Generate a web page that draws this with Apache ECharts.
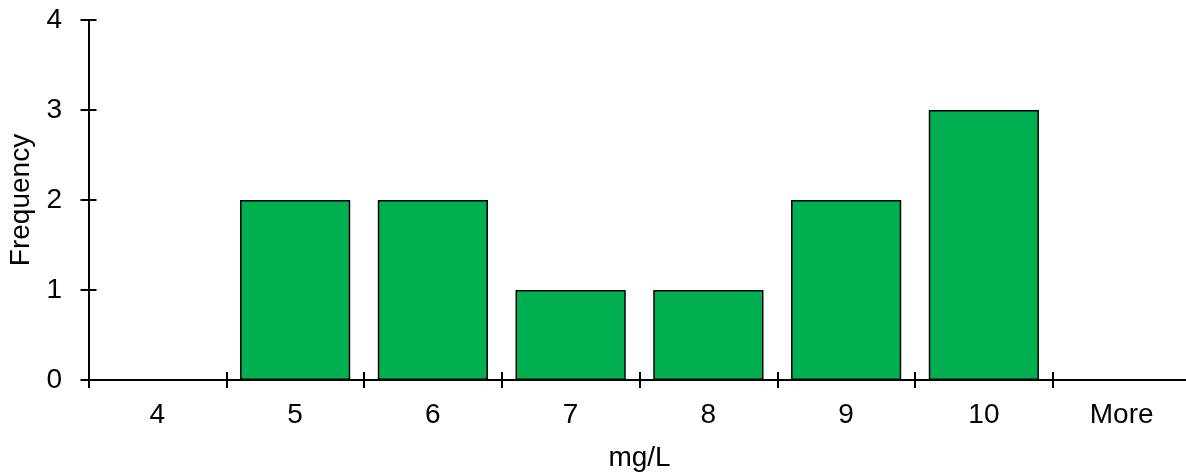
<!DOCTYPE html>
<html>
<head>
<meta charset="utf-8">
<script src="https://cdn.jsdelivr.net/npm/echarts@6/dist/echarts.min.js"></script>
<style>
  html, body { margin: 0; padding: 0; background: #fff; }
  #chart { width: 1186px; height: 474px; }
</style>
</head>
<body>
<div id="chart"></div>
<script>
const categories = ['4', '5', '6', '7', '8', '9', '10', 'More'];
const frequency = [0, 2, 2, 1, 1, 2, 3, 0];
const yTicks = { min: 0, max: 4, interval: 1 };

const font = '"Liberation Sans", Arial, sans-serif';
const lineStyle = { color: '#000', width: 2 };

const chart = echarts.init(document.getElementById('chart'), null, { renderer: 'canvas' });
chart.setOption({
  animation: false,
  backgroundColor: '#fff',
  grid: { left: 88.5, right: -4.5, top: 20, bottom: 94, containLabel: false, outerBoundsMode: 'none' },
  xAxis: [
    {
      type: 'category',
      data: categories,
      position: 'bottom',
      name: 'mg/L',
      nameLocation: 'middle',
      nameGap: 64.5,
      nameTextStyle: { fontFamily: font, fontSize: 28, color: '#000' },
      axisLine: { show: true, lineStyle: lineStyle },
      axisTick: { show: true, inside: false, length: 8, alignWithLabel: false, lineStyle: lineStyle },
      axisLabel: { show: true, margin: 21.5, fontFamily: font, fontSize: 28, color: '#000', interval: 0 },
      splitLine: { show: false }
    },
    {
      type: 'category',
      data: categories,
      position: 'bottom',
      axisLine: { show: true, lineStyle: lineStyle },
      axisTick: { show: true, inside: true, length: 8, alignWithLabel: false, lineStyle: lineStyle },
      axisLabel: { show: false },
      splitLine: { show: false }
    }
  ],
  yAxis: [
    {
      type: 'value',
      position: 'left',
      min: yTicks.min,
      max: yTicks.max,
      interval: yTicks.interval,
      name: 'Frequency',
      nameLocation: 'middle',
      nameGap: 49,
      nameTextStyle: { fontFamily: font, fontSize: 28, color: '#000' },
      axisLine: { show: true, lineStyle: lineStyle },
      axisTick: { show: true, inside: false, length: 8, lineStyle: lineStyle },
      axisLabel: { show: true, margin: 26.5, fontFamily: font, fontSize: 28, color: '#000' },
      splitLine: { show: false }
    },
    {
      type: 'value',
      position: 'left',
      min: yTicks.min,
      max: yTicks.max,
      interval: yTicks.interval,
      axisLine: { show: true, lineStyle: lineStyle },
      axisTick: { show: true, inside: true, length: 8, lineStyle: lineStyle },
      axisLabel: { show: false },
      splitLine: { show: false }
    }
  ],
  series: [
    {
      type: 'bar',
      data: frequency,
      xAxisIndex: 0,
      yAxisIndex: 0,
      barWidth: '80%',
      itemStyle: { color: '#00B050', borderColor: '#000', borderWidth: 1.5 },
      z: 1
    }
  ]
});
</script>
</body>
</html>
